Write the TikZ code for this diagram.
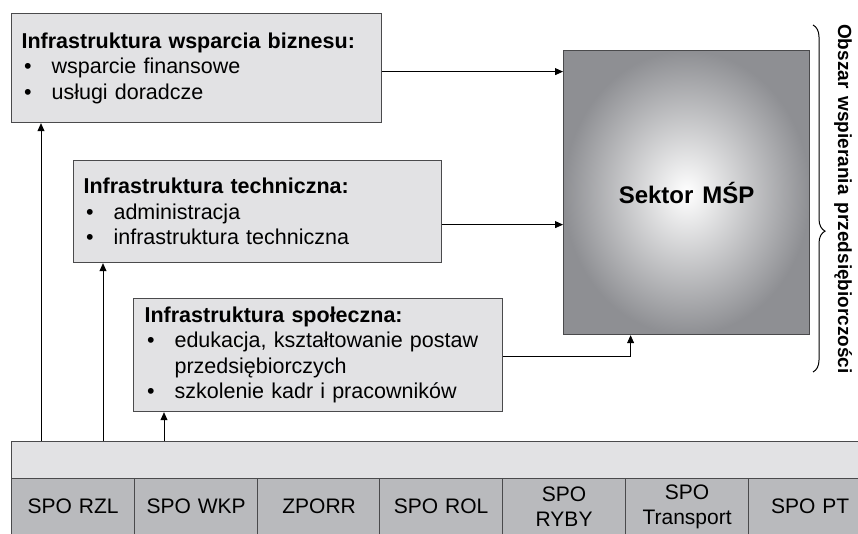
\documentclass[tikz,border=0pt]{standalone}
\usepackage{fontspec}
\setmainfont{Liberation Sans}
\usetikzlibrary{arrows.meta,decorations.pathreplacing}

\definecolor{jasny}{HTML}{E2E2E4}
\definecolor{ciemny}{HTML}{B9BABD}
\definecolor{ramka}{HTML}{4A4A4C}
\definecolor{mspszary}{HTML}{8E8F93}

\newcommand{\pkt}{\makebox[30pt][l]{\hspace{2.5pt}\textbullet}}
\newcommand{\pismoblok}{\fontsize{21.5}{25.5}\selectfont\spaceskip=7.5pt plus 1pt\relax}
\newcommand{\pismokom}{\fontsize{21}{24.5}\selectfont\spaceskip=7pt plus 1pt\relax}
\newcommand{\pismomsp}{\bfseries\fontsize{24}{28}\selectfont\spaceskip=9pt\relax}
\newcommand{\pismobok}{\bfseries\fontsize{19}{24}\selectfont\spaceskip=8pt\relax}

\tikzset{
  blok/.style={draw=ramka, line width=1.2pt, fill=jasny, anchor=north west,
    align=left, inner xsep=10pt, inner ysep=0pt, font=\pismoblok},
  komorka/.style={draw=ramka, line width=1.2pt, fill=ciemny, anchor=north west,
    minimum width=123pt, minimum height=56pt, align=center, inner sep=0pt,
    font=\pismokom},
  strzalka/.style={-{Triangle[length=8pt,width=7pt]}, line width=0.8pt}
}

\begin{document}
\begin{tikzpicture}[x=1pt, y=-1pt]

\useasboundingbox (0,0) rectangle (858,533);
\clip (0,0) rectangle (858,533);

\node[blok, text width=350pt, minimum height=109pt] (biz) at (11,13)
  {\textbf{Infrastruktura wsparcia biznesu:}\\
   \pkt wsparcie finansowe\\
   \pkt usługi doradcze};
\node[blok, text width=348pt, minimum height=102pt] (tech) at (73,160)
  {\textbf{Infrastruktura techniczna:}\\
   \pkt administracja\\
   \pkt infrastruktura techniczna};
\node[blok, text width=347pt, inner xsep=11pt, minimum height=113pt] (spol) at (133,298)
  {\textbf{Infrastruktura społeczna:}\\
   \pkt edukacja, kształtowanie postaw\\
   \hspace*{30pt}przedsiębiorczych\\
   \pkt szkolenie kadr i pracowników};

\node[draw=ramka, line width=1.2pt, anchor=north west, minimum width=246pt,
  minimum height=284pt, inner sep=0pt, inner color=white, outer color=mspszary,
  font=\pismomsp] (msp) at (563,50) {Sektor MŚP};

\node[draw=ramka, line width=1.2pt, fill=jasny, anchor=north west,
  minimum width=880pt, minimum height=37pt, inner sep=0pt] (pasek) at (11,441) {};

\node[komorka] (spo1) at (11,478) {SPO RZL};
\node[komorka] (spo2) at (134,478) {SPO WKP};
\node[komorka] (spo3) at (257,478) {ZPORR};
\node[komorka] (spo4) at (379,478) {SPO ROL};
\node[komorka] (spo5) at (502,478) {SPO\\RYBY};
\node[komorka] (spo6) at (625,478) {SPO\\Transport};
\node[komorka] (spo7) at (748,478) {SPO PT};

\draw[strzalka] ([yshift=-3.5pt]biz.east) -- ([yshift=-3.5pt]biz.east -| msp.west);
\draw[strzalka] ([yshift=-13pt]tech.east) -- ([yshift=-13pt]tech.east -| msp.west);
\draw[strzalka] ([yshift=-1.5pt]spol.east) -| ([xshift=-56pt]msp.south);

\draw[strzalka] ([xshift=30pt]biz.south west |- pasek.north) -- ([xshift=30pt]biz.south west);
\draw[strzalka] ([xshift=30pt]tech.south west |- pasek.north) -- ([xshift=30pt]tech.south west);
\draw[strzalka] ([xshift=31pt]spol.south west |- pasek.north) -- ([xshift=31pt]spol.south west);

\draw[line width=1pt, decorate, decoration={brace, amplitude=12pt, aspect=0.594}]
  (813,25) -- (813,372);
\node[rotate=-90, font=\pismobok] (obszar) at (843,199)
  {Obszar wspierania przedsiębiorczości};

\end{tikzpicture}
\end{document}
